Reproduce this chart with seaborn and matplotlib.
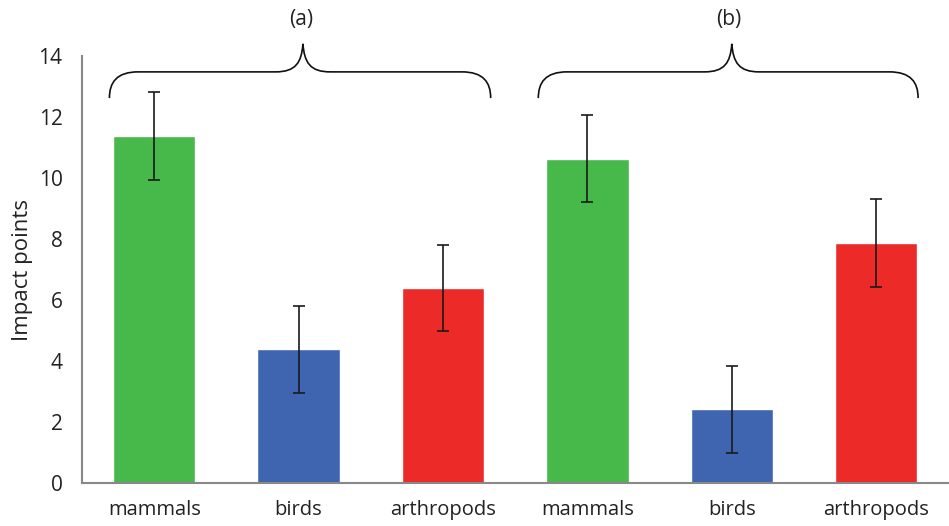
import numpy as np
import pandas as pd
import matplotlib
matplotlib.use("Agg")
import matplotlib.pyplot as plt
from matplotlib.path import Path
from matplotlib.patches import PathPatch
import seaborn as sns

# data
groups = ["(a)", "(a)", "(a)", "(b)", "(b)", "(b)"]
animals = ["mammals", "birds", "arthropods", "mammals", "birds", "arthropods"]
impact = [11.38, 4.39, 6.39, 10.63, 2.42, 7.87]
errors = [1.44, 1.43, 1.42, 1.43, 1.42, 1.43]
colours = {"mammals": "#47B84A", "birds": "#3F65B0", "arthropods": "#EC2A28"}

sns.set_style("white")
plt.rcParams["font.family"] = ["Open Sans", "DejaVu Sans"]

df = pd.DataFrame({"bar": [f"{g} {a}" for g, a in zip(groups, animals)],
                   "animal": animals, "impact": impact})

fig = plt.figure(figsize=(9.49, 5.26), dpi=100)
ax = fig.add_axes([0.0864, 0.0817, 0.913, 0.8118])

sns.barplot(data=df, x="bar", y="impact", hue="animal", palette=colours,
            dodge=False, legend=False, errorbar=None, width=0.57,
            saturation=1, ax=ax)
ax.errorbar(np.arange(len(impact)), impact, yerr=errors, fmt="none",
            ecolor="#1a1a1a", elinewidth=1.2, capsize=4, capthick=1.2)

ax.set_xlim(-0.5, 5.5)
ax.set_ylim(0, 14)
ax.set_yticks(range(0, 15, 2))
ax.set_xticks(range(6))
ax.set_xticklabels(animals)
ax.set_xticks(np.arange(-0.5, 6, 1), minor=True)
ax.tick_params(axis="x", which="major", length=0, pad=12, labelsize=14.5, colors="#222222")
ax.tick_params(axis="x", which="minor", length=5, width=1.3, color="#888888", direction="out")
ax.tick_params(axis="y", length=5, width=1.3, color="#888888", direction="out",
               labelsize=15, labelcolor="#222222", pad=9)
ax.set_xlabel("")
ax.set_ylabel("Impact points", fontsize=16, color="#222222", labelpad=4)

for s in ["top", "right"]:
    ax.spines[s].set_visible(False)
for s in ["left", "bottom"]:
    ax.spines[s].set_color("#888888")
    ax.spines[s].set_linewidth(1.5)


# curly braces above each group
def brace(x0, x1, xc, ye=12.62, yh=13.48, yp=14.4):
    dx = 0.2
    verts = [(x0, ye), (x0, ye + 0.6 * (yh - ye)), (x0 + 0.05, yh), (x0 + dx, yh),
             (xc - 0.19, yh),
             (xc - 0.05, yh), (xc - 0.01, yh + 0.3), (xc, yp),
             (xc + 0.01, yh + 0.3), (xc + 0.05, yh), (xc + 0.19, yh),
             (x1 - dx, yh),
             (x1 - 0.05, yh), (x1, ye + 0.6 * (yh - ye)), (x1, ye)]
    codes = [Path.MOVETO, Path.CURVE4, Path.CURVE4, Path.CURVE4,
             Path.LINETO,
             Path.CURVE4, Path.CURVE4, Path.CURVE4,
             Path.CURVE4, Path.CURVE4, Path.CURVE4,
             Path.LINETO,
             Path.CURVE4, Path.CURVE4, Path.CURVE4]
    ax.add_patch(PathPatch(Path(verts, codes), fill=False, lw=1.2,
                           edgecolor="#111111", clip_on=False))


brace(-0.31, 2.33, 1.03)
brace(2.66, 5.29, 4.0)
ax.text(1.02, 15.2, "(a)", ha="center", va="center", fontsize=15, color="#222222")
ax.text(3.98, 15.2, "(b)", ha="center", va="center", fontsize=15, color="#222222")

fig.savefig("out.png", dpi=100)
